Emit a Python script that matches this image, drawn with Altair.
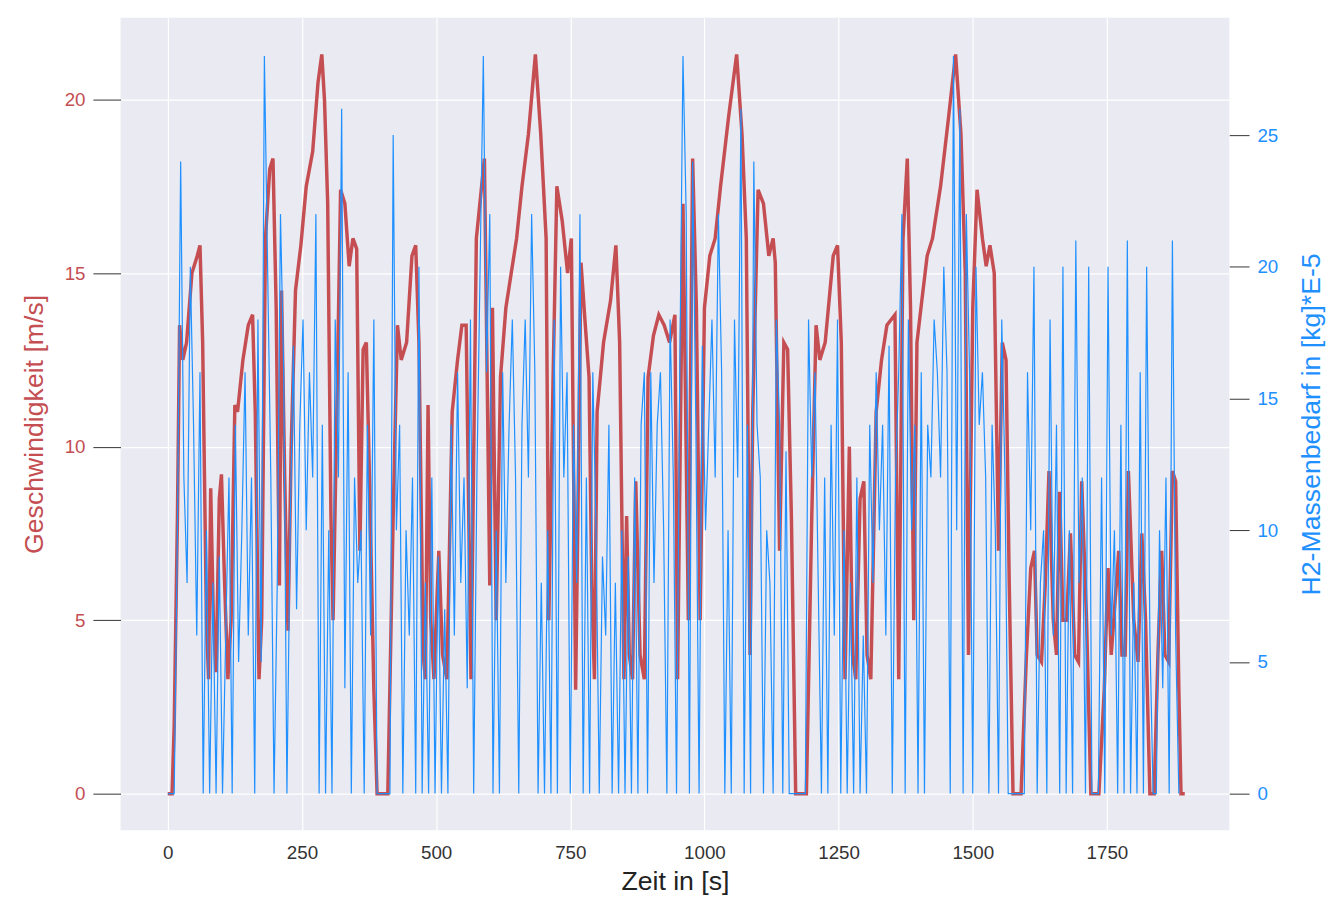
import altair as alt
import pandas as pd

# Geschwindigkeit (m/s) keypoints
speed_t = [0, 8, 12, 18, 22, 28, 35, 45, 55, 60, 65, 72, 76, 80, 85, 90, 96, 100, 106, 112, 118, 125, 130, 140, 150, 158, 163, 170, 175, 182, 190, 196, 202, 208, 212, 218, 224, 230, 238, 248, 258, 270, 280, 287, 292, 298, 304, 308, 315, 322, 330, 338, 345, 352, 358, 364, 370, 376, 384, 390, 410,
           420, 428, 435, 445, 455, 462, 468, 476, 480, 485, 490, 496, 505, 512, 520, 530, 540, 548, 556, 565, 575, 590, 600, 605, 612, 620, 630, 640, 650, 660, 672, 685, 695, 705, 710, 718, 725, 735, 745, 752, 760, 765, 770, 778, 785, 790, 795,
           800, 812, 825, 835, 842, 850, 855, 860, 866, 872, 880, 888, 895, 905, 915, 925, 935, 945, 950, 960, 970, 978, 985, 992, 1000, 1010, 1020, 1030, 1045, 1060, 1070, 1078, 1085, 1090, 1100, 1110, 1120, 1128, 1132, 1140, 1148, 1155, 1162, 1170, 1190,
           1200, 1208, 1215, 1225, 1240, 1248, 1255, 1262, 1270, 1276, 1282, 1290, 1297, 1303, 1310, 1320, 1330, 1340, 1355, 1362, 1370, 1378, 1384, 1390, 1396, 1405, 1415, 1425, 1440, 1455, 1468, 1478, 1486, 1492, 1500, 1508, 1518, 1525, 1532, 1540, 1548, 1555, 1562, 1568, 1575, 1590,
           1600, 1608, 1615, 1620, 1628, 1635, 1642, 1650, 1656, 1662, 1668, 1675, 1682, 1690, 1697, 1703, 1712, 1720, 1735, 1745, 1752, 1758, 1765, 1772, 1778, 1784, 1790, 1800, 1808, 1815, 1822, 1830, 1838, 1845, 1852, 1858, 1865, 1872, 1878, 1884, 1888, 1895]
speed_v = [0, 0, 2, 8, 13.5, 12.5, 13, 15, 15.5, 15.8, 13, 5, 3.3, 8.8, 5, 3.5, 8.5, 9.2, 6, 3.3, 5, 11.2, 11, 12.5, 13.5, 13.8, 11, 3.3, 5, 16, 18, 18.3, 14, 6, 14.5, 9, 4.7, 10, 14.5, 15.8, 17.5, 18.5, 20.5, 21.3, 20, 17, 8, 5, 11, 17.4, 17, 15.2, 16, 15.7, 7, 12.8, 13, 9, 3, 0, 0,
           8, 13.5, 12.5, 13, 15.5, 15.8, 13, 4, 3.3, 11.2, 5, 3.3, 7, 4, 3.3, 11, 12.5, 13.5, 13.5, 3.3, 16, 18.3, 6, 14, 5, 12, 14, 15, 16, 17.5, 19, 21.3, 19, 16, 5, 12, 17.5, 16.5, 15, 16, 3, 9, 15.3, 13.5, 12, 6, 3.3,
           11, 13, 14.2, 15.8, 13, 3.3, 8, 4, 3.3, 9, 4, 3.3, 12, 13.2, 13.8, 13.5, 13, 13.8, 3.3, 17, 5, 18.3, 14, 5, 14, 15.5, 16, 17.5, 19.5, 21.3, 19, 16, 4, 11, 17.4, 17, 15.5, 16, 15.3, 7, 13, 12.8, 8, 0, 0,
           8, 13.5, 12.5, 13, 15.5, 15.8, 13, 3.3, 10, 4, 3.3, 8.5, 9, 4, 3.3, 11, 12.5, 13.5, 13.8, 3.3, 16, 18.3, 14, 5, 13, 14.2, 15.5, 16, 17.5, 19.5, 21.3, 19, 15, 4, 14, 17.4, 16, 15.2, 15.8, 15, 7, 13, 12.5, 6, 0, 0,
           4, 6.5, 7, 4, 3.8, 6, 9.3, 5, 4, 8.7, 5, 5, 7.5, 4, 3.8, 9, 5, 0, 0, 3, 6.5, 4, 5.5, 7, 4, 4, 9.3, 5, 3.8, 7.5, 5, 0, 0, 4, 7, 4, 3.8, 9.3, 9, 3, 0, 0]

# H2-Massenbedarf ([kg]*E-5), sampled every 6 s
h2_t = list(range(0, 1890, 6))
h2_v = [0, 0, 0, 10, 24, 12, 8, 20, 14, 6,
        16, 0, 10, 0, 8, 0, 9, 0, 6, 12,
        0, 14, 5, 10, 16, 6, 12, 0, 18, 5,
        28, 20, 12, 0, 8, 22, 16, 0, 10, 17,
        7, 14, 18, 10, 16, 12, 22, 0, 14, 0,
        10, 0, 18, 12, 26, 4, 16, 0, 12, 8,
        10, 0, 14, 6, 18, 0, 0, 0, 0, 0,
        25, 10, 14, 0, 10, 6, 12, 0, 20, 0,
        8, 0, 12, 0, 9, 0, 7, 0, 14, 6,
        16, 8, 12, 4, 18, 0, 12, 20, 28, 16,
        22, 0, 10, 0, 16, 8, 14, 18, 12, 0,
        14, 18, 12, 22, 16, 0, 8, 0, 10, 0,
        18, 0, 20, 12, 16, 0, 14, 8, 22, 0,
        12, 0, 16, 10, 0, 9, 6, 14, 0, 8,
        0, 10, 0, 9, 0, 12, 0, 14, 16, 0,
        16, 8, 14, 16, 10, 0, 18, 12, 0, 16,
        28, 22, 0, 24, 14, 0, 17, 10, 14, 18,
        12, 22, 16, 0, 10, 0, 18, 12, 26, 0,
        14, 0, 24, 14, 12, 0, 10, 8, 0, 18,
        14, 0, 13, 0, 0, 0, 0, 0, 0, 18,
        12, 16, 8, 0, 12, 0, 14, 6, 18, 0,
        10, 0, 8, 0, 12, 0, 6, 0, 14, 8,
        16, 10, 14, 6, 17, 0, 12, 16, 22, 0,
        18, 10, 14, 0, 16, 0, 14, 12, 18, 16,
        12, 20, 16, 0, 28, 10, 26, 0, 22, 16,
        0, 20, 14, 16, 12, 0, 14, 10, 0, 18,
        12, 0, 0, 0, 0, 0, 0, 16, 10, 20,
        0, 8, 10, 0, 18, 6, 14, 0, 20, 0,
        10, 0, 21, 8, 12, 0, 20, 0, 0, 0,
        12, 0, 20, 6, 10, 0, 14, 0, 21, 0,
        8, 0, 16, 0, 20, 6, 0, 0, 10, 4,
        12, 0, 21, 6, 0]

RED = "#C44E52"
BLUE = "#1E90FF"
FONT = "Liberation Sans"

df_speed = pd.DataFrame({"t": speed_t, "v": speed_v})
df_h2 = pd.DataFrame({"t": h2_t, "m": h2_v})

x = alt.X("t:Q", title="Zeit in [s]", scale=alt.Scale(domain=[-88, 1978], nice=False),
          axis=alt.Axis(values=[0, 250, 500, 750, 1000, 1250, 1500, 1750], format="d",
                        labelFontSize=19, titleFontSize=27, titleFontWeight="normal",
                        titleColor="#222222", labelColor="#333333", gridColor="white",
                        gridWidth=1.2, ticks=False, domain=False, labelPadding=14, titlePadding=6))

blue = alt.Chart(df_h2).mark_line(color=BLUE, strokeWidth=1.2).encode(
    x=x,
    y=alt.Y("m:Q", title="H2-Massenbedarf in [kg]*E-5",
            scale=alt.Scale(domain=[-1.39, 29.46], nice=False),
            axis=alt.Axis(orient="right", values=[0, 5, 10, 15, 20, 25], grid=False,
                          labelColor=BLUE, titleColor=BLUE, labelFontSize=19, titleFontSize=27,
                          titleFontWeight="normal", tickColor="#333333", tickSize=20,
                          titleAngle=270, titleBaseline="bottom",
                          domain=False, labelPadding=8, titlePadding=48)),
)

red = alt.Chart(df_speed).mark_line(color=RED, strokeWidth=3.5).encode(
    x=x,
    y=alt.Y("v:Q", title="Geschwindigkeit [m/s]",
            scale=alt.Scale(domain=[-1.05, 22.36], nice=False),
            axis=alt.Axis(orient="left", values=[0, 5, 10, 15, 20], gridColor="white",
                          gridWidth=1.2, labelColor=RED, titleColor=RED, labelFontSize=19,
                          titleFontSize=27, titleFontWeight="normal", tickColor="#333333",
                          tickSize=28, domain=False, labelPadding=8, titlePadding=16)),
)

chart = (
    alt.layer(red, blue)
    .resolve_scale(y="independent")
    .properties(width=1123, height=823, padding={"left": 12, "top": 4, "right": 5, "bottom": 5},
                view=alt.ViewBackground(fill="#EAEAF2", stroke=None))
    .configure(font=FONT)
)

chart.save("out.html", embed_options={"renderer": "svg", "actions": False})
